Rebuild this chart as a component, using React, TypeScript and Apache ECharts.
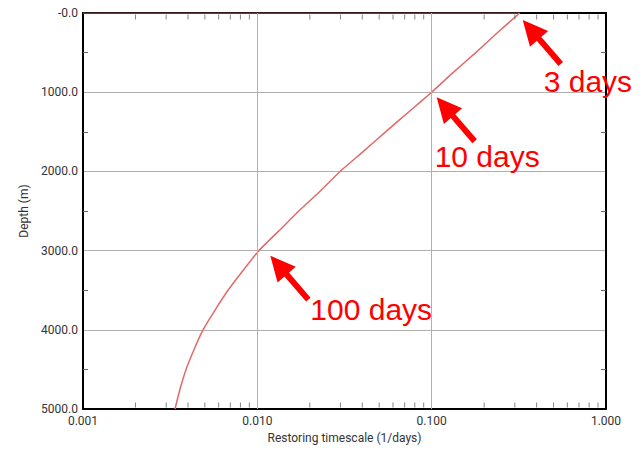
import React, { useEffect, useRef } from "react";
import * as echarts from "echarts";

// Restoring rate (1/days) vs depth (m)
const depths = [
  0, 250, 500, 750, 1000, 1250, 1500, 1750, 2000, 2250, 2500, 2750,
  3000, 3250, 3500, 3750, 4000, 4250, 4500, 4750, 5000,
];
const rates = [
  0.32, 0.238, 0.179, 0.133, 0.1, 0.0738, 0.0544, 0.0404, 0.0298, 0.0229, 0.0173, 0.0133,
  0.0102, 0.00828, 0.00679, 0.00572, 0.00488, 0.00433, 0.0039, 0.0036, 0.00337,
];

// surface segment along depth 0
const surfaceRates = [0.001, 0.32];
const surfaceDepths = [0, 0];

// x axis ticks
const xMajorTicks = [0.001, 0.01, 0.1, 1];
const xMinorTicks = [
  0.002, 0.003, 0.004, 0.005, 0.006, 0.007, 0.008, 0.009,
  0.02, 0.03, 0.04, 0.05, 0.06, 0.07, 0.08, 0.09,
  0.2, 0.3, 0.4, 0.5, 0.6, 0.7, 0.8, 0.9,
];
const depthRange = [0, 5000];

// annotations
const annoLabels = ["3 days", "10 days", "100 days"];
const annoRates = [0.32, 0.1, 0.01];
const annoDepths = [0, 1000, 3000];

// annotation layout (pixel offsets)
const tipOffsets = [[3, 7], [5, 5], [13, 5]];
const textOffsets = [[21, 61], [-2, 59], [40, 54]];
const tailVector = [38, 44];

export default function App() {
  const ref = useRef<HTMLDivElement>(null);

  useEffect(() => {
    if (!ref.current) return;
    const chart = echarts.init(ref.current, null, { renderer: "svg" });
    const labelFont = { fontFamily: "Roboto", fontSize: 12, color: "#333" };
    const frame = { show: true, onZero: false, lineStyle: { color: "#000", width: 2 } };
    const minorTickStyle = { color: "#666", width: 1 };
    const gridColor = "#b0b0b0";

    const tickSeries = (depth: number, offsetY: number) => ({
      type: "scatter",
      xAxisIndex: 0,
      yAxisIndex: 0,
      silent: true,
      clip: false,
      symbol: "rect",
      symbolSize: [1, 5],
      symbolOffset: [0, offsetY],
      itemStyle: { color: minorTickStyle.color },
      data: xMinorTicks.map((v) => [v, depth]),
      z: 4,
    });

    chart.setOption({
      animation: false,
      backgroundColor: "#fff",
      grid: {
        left: 83,
        right: 36,
        top: 13,
        bottom: 36,
        containLabel: false,
      },
      xAxis: [
        {
          type: "log",
          logBase: 10,
          min: 0.001,
          max: 1,
          position: "bottom",
          name: "Restoring timescale (1/days)",
          nameLocation: "middle",
          nameGap: 22,
          nameTextStyle: { ...labelFont },
          axisLine: frame,
          axisTick: { show: false },
          axisLabel: {
            ...labelFont,
            margin: 6,
            customValues: xMajorTicks,
            formatter: (v: number) => v.toFixed(3),
          },
          splitLine: { show: false },
          z: 1,
        },
        {
          type: "log",
          logBase: 10,
          min: 0.001,
          max: 1,
          position: "top",
          axisLine: frame,
          axisTick: { show: false },
          axisLabel: { show: false },
          splitLine: { show: false },
          z: 1,
        },
      ],
      yAxis: [
        {
          type: "value",
          inverse: true,
          min: 0,
          max: 5000,
          interval: 1000,
          position: "left",
          name: "Depth (m)",
          nameLocation: "middle",
          nameGap: 50,
          nameTextStyle: { ...labelFont },
          axisLine: frame,
          axisTick: { show: false, inside: true },
          minorTick: { show: true, splitNumber: 2, length: 5, lineStyle: minorTickStyle },
          axisLabel: {
            ...labelFont,
            margin: 5,
            formatter: (v: number) => (v === 0 ? "-0.0" : v.toFixed(1)),
          },
          splitLine: { show: true, lineStyle: { color: gridColor, width: 1 } },
          z: 1,
        },
        {
          type: "value",
          inverse: true,
          min: 0,
          max: 5000,
          interval: 1000,
          position: "right",
          axisLine: frame,
          axisTick: { show: false, inside: true },
          minorTick: { show: true, splitNumber: 2, length: 5, lineStyle: minorTickStyle },
          axisLabel: { show: false },
          splitLine: { show: false },
          z: 1,
        },
      ],
      series: [
        {
          type: "line",
          xAxisIndex: 0,
          yAxisIndex: 0,
          data: [],
          silent: true,
          z: 0,
          markLine: {
            silent: true,
            symbol: ["none", "none"],
            label: { show: false },
            lineStyle: { color: gridColor, width: 1, type: "solid" },
            data: xMajorTicks.slice(1, -1).map((v) => ({ xAxis: v })),
          },
        },
        tickSeries(depthRange[1], -4),
        tickSeries(depthRange[0], 4),
        {
          type: "line",
          xAxisIndex: 0,
          yAxisIndex: 0,
          data: surfaceRates.map((r, i) => [r, surfaceDepths[i]]),
          showSymbol: false,
          lineStyle: { color: "#e06a6a", width: 1.2 },
          z: 3,
        },
        {
          type: "line",
          xAxisIndex: 0,
          yAxisIndex: 0,
          data: rates.map((r, i) => [r, depths[i]]),
          showSymbol: false,
          smooth: 0.15,
          lineStyle: { color: "#e06a6a", width: 1.5 },
          z: 3,
        },
      ],
    });

    const graphics: any[] = [];

    annoLabels.forEach((label, i) => {
      const p = chart.convertToPixel({ xAxisIndex: 0, yAxisIndex: 0 }, [annoRates[i], annoDepths[i]]) as number[];
      const tip = [p[0] + tipOffsets[i][0], p[1] + tipOffsets[i][1]];
      const tail = [tip[0] + tailVector[0], tip[1] + tailVector[1]];
      const len = Math.hypot(tailVector[0], tailVector[1]);
      const ux = tailVector[0] / len;
      const uy = tailVector[1] / len;
      const headLen = 25;
      const halfW = 12;
      const base = [tip[0] + ux * headLen, tip[1] + uy * headLen];
      const nx = -uy;
      const ny = ux;
      graphics.push({
        type: "line",
        shape: { x1: base[0] - ux * 2, y1: base[1] - uy * 2, x2: tail[0], y2: tail[1] },
        style: { stroke: "#ff0000", lineWidth: 6 },
        z: 100,
      });
      graphics.push({
        type: "polygon",
        shape: {
          points: [
            [tip[0], tip[1]],
            [base[0] + nx * halfW, base[1] + ny * halfW],
            [base[0] - nx * halfW, base[1] - ny * halfW],
          ],
        },
        style: { fill: "#ff0000" },
        z: 100,
      });
      graphics.push({
        type: "text",
        x: tip[0] + textOffsets[i][0],
        y: tip[1] + textOffsets[i][1],
        style: {
          text: label,
          fill: "#ff0000",
          font: '30px "Liberation Sans"',
          textAlign: "left",
          verticalAlign: "middle",
        },
        z: 100,
      });
    });
    chart.setOption({ graphic: graphics });

    return () => chart.dispose();
  }, []);

  return (
    <div
      ref={ref}
      style={{ position: "absolute", left: 0, top: 0, width: 642, height: 449 }}
    />
  );
}
